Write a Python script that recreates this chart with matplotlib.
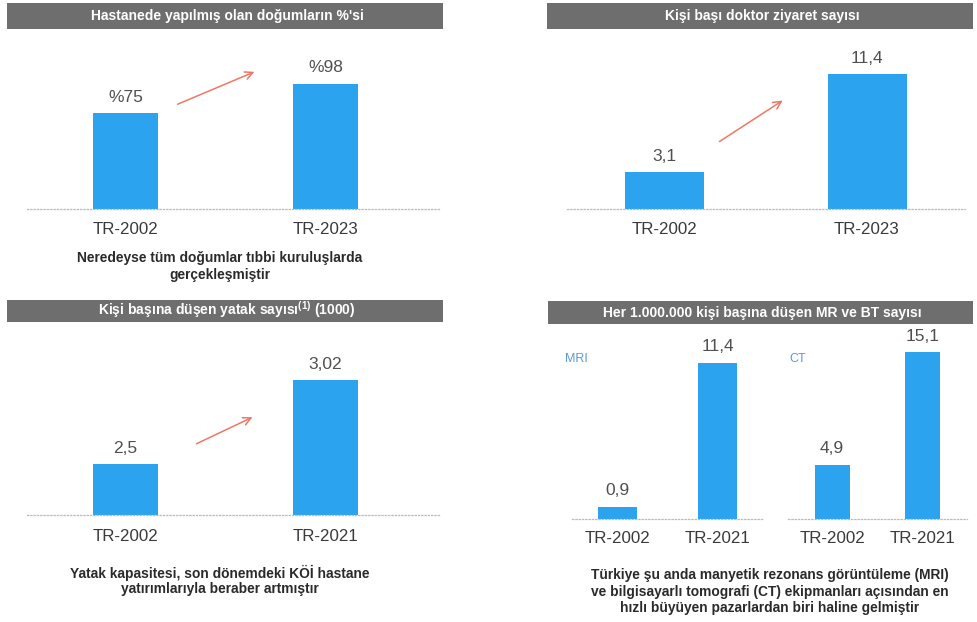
import matplotlib
matplotlib.use("Agg")
import matplotlib.pyplot as plt
from matplotlib.patches import Rectangle

plt.rcParams['font.family'] = ['Liberation Sans', 'DejaVu Sans']
plt.rcParams['mathtext.fontset'] = 'custom'
plt.rcParams['mathtext.rm'] = 'Liberation Sans'
plt.rcParams['mathtext.bf'] = 'Liberation Sans:bold'

# data
births_cats = ["TR-2002", "TR-2023"]
births_vals = [75, 98]
births_labels = ["%75", "%98"]

visits_cats = ["TR-2002", "TR-2023"]
visits_vals = [3.1, 11.4]
visits_labels = ["3,1", "11,4"]

beds_cats = ["TR-2002", "TR-2021"]
beds_vals = [2.5, 3.02]
beds_labels = ["2,5", "3,02"]

mri_cats = ["TR-2002", "TR-2021"]
mri_vals = [0.9, 11.4]
mri_labels = ["0,9", "11,4"]

ct_cats = ["TR-2002", "TR-2021"]
ct_vals = [4.9, 15.1]
ct_labels = ["4,9", "15,1"]

W, H = 977, 622
BAR = "#2ba3ee"
ARROW = "#ee7766"
HEAD = "#6e6e6e"

fig = plt.figure(figsize=(W / 100, H / 100), dpi=100)


def header(x0, x1, y0, y1, text, ty):
    fig.patches.append(Rectangle((x0 / W, 1 - y1 / H), (x1 - x0) / W, (y1 - y0) / H,
                                 transform=fig.transFigure, facecolor=HEAD,
                                 edgecolor="none", zorder=0))
    fig.text((x0 + x1) / 2 / W + 0.002, 1 - ty / H, text, color="white", fontsize=10,
             fontweight="bold", ha="center", va="center")


def caption(cx, ys, lines):
    for y, line in zip(ys, lines):
        fig.text(cx / W, 1 - y / H, line, fontsize=9.9, fontweight="bold",
                 color="#2a2a2a", ha="center", va="center")


def panel(left, right, top, base, c0, step, k, v0, cats, vals, labels, width_px, pad):
    # axes laid out in pixels: c0 = centre of first bar, step = px between bars,
    # k = px per data unit, v0 = value at the baseline
    ax = fig.add_axes([left / W, 1 - base / H, (right - left) / W, (base - top) / H])
    ax.set_xlim((left - c0) / step, (right - c0) / step)
    ax.set_ylim(v0, v0 + (base - top) / k)
    xs = list(range(len(vals)))
    ax.bar(xs, vals, width=width_px / step, color=BAR, zorder=2)
    for x, v, lab in zip(xs, vals, labels):
        ax.annotate(lab, (x, v), xytext=(0, 11.5), textcoords="offset points",
                    ha="center", va="center", fontsize=12.5, color="#505050")
    ax.set_xticks(xs)
    ax.set_xticklabels(cats, fontsize=12.2, color="#3a3a3a")
    ax.tick_params(axis="x", length=0, pad=pad)
    ax.set_yticks([])
    for s in ["top", "left", "right"]:
        ax.spines[s].set_visible(False)
    ax.spines["bottom"].set_color("#bbbbbb")
    ax.spines["bottom"].set_linestyle(":")
    ax.spines["bottom"].set_linewidth(0.9)
    ax.patch.set_alpha(0)
    return ax


def arrow(ax, p0, p1):
    ax.annotate("", xy=p1, xytext=p0,
                arrowprops=dict(arrowstyle="->", color=ARROW, lw=1.1,
                                mutation_scale=14))


# top left: births in hospitals
header(7, 443, 3, 29, "Hastanede yapılmış olan doğumların %'si", 16)
ax1 = panel(27, 440, 40, 209, 125.5, 200, 1.28, 0, births_cats, births_vals,
            births_labels, 65, 9.5)
arrow(ax1, (0.2475, 81), (0.6575, 108))
caption(220, [258, 275], ["Neredeyse tüm doğumlar tıbbi kuruluşlarda",
                          "gerçekleşmiştir"])

# top right: doctor visits per person
header(547, 973, 3, 29, "Kişi başı doktor ziyaret sayısı", 16)
ax2 = panel(567, 965, 40, 209, 664.5, 202.5, 11.84, 0, visits_cats, visits_vals,
            visits_labels, 79, 9.5)
arrow(ax2, (0.26, 5.57), (0.595, 9.29))

# bottom left: beds per 1000 people
header(7, 443, 300, 322, "Kişi başına düşen yatak sayısı$^{\\mathbf{(1)}}$ (1000)", 310)
ax3 = panel(27, 440, 335, 515, 125.5, 200, 161, 2.184, beds_cats, beds_vals,
            beds_labels, 65, 10)
arrow(ax3, (0.3425, 2.619), (0.6475, 2.799))
caption(220, [573, 589], ["Yatak kapasitesi, son dönemdeki KÖİ hastane",
                          "yatırımlarıyla beraber artmıştır"])

# bottom right: MRI and CT units per million
header(548, 973, 301, 324, "Her 1.000.000 kişi başına düşen MR ve BT sayısı", 313)
ax4 = panel(572, 763, 335, 519, 617.5, 100, 13.7, 0, mri_cats, mri_vals,
            mri_labels, 39, 8.5)
ax5 = panel(788, 967, 335, 519, 832, 90.5, 11.06, 0, ct_cats, ct_vals,
            ct_labels, 35, 8.5)
fig.text(565 / W, 1 - 359 / H, "MRI", fontsize=9, color="#5b9bd5", ha="left", va="center")
fig.text(789 / W, 1 - 359 / H, "CT", fontsize=9, color="#5b9bd5", ha="left", va="center")
caption(770, [575, 592, 608], ["Türkiye şu anda manyetik rezonans görüntüleme (MRI)",
                               "ve bilgisayarlı tomografi (CT) ekipmanları açısından en",
                               "hızlı büyüyen pazarlardan biri haline gelmiştir"])

fig.savefig("out.png", dpi=100, facecolor="white")
